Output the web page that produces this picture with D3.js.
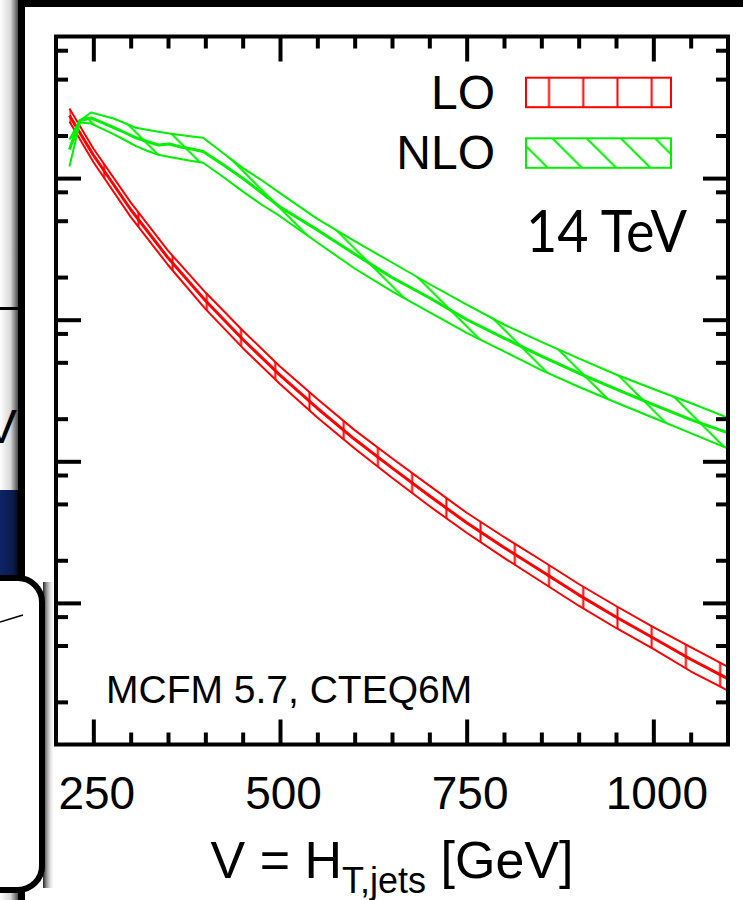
<!DOCTYPE html>
<html>
<head>
<meta charset="utf-8">
<script src="https://cdn.jsdelivr.net/npm/d3@7"></script>
<style>
  html, body { margin: 0; padding: 0; background: #fff; }
  svg { display: block; }
</style>
</head>
<body>
<svg id="chart" width="743" height="900"></svg>
<script>
// Differential cross section in V = H_T,jets at 14 TeV: LO and NLO scale bands.
// Values are in arbitrary units on a log scale (five decades shown).

// LO band
const vLO = [218, 250, 300, 350, 400, 450, 500, 550, 600, 650, 700, 750, 800, 850, 900, 950, 1000, 1050, 1100];
const loCentral = [2767, 1456, 600, 273.6, 136.6, 72.8, 40.6, 23.7, 14.3, 8.98, 5.71, 3.68, 2.46, 1.68, 1.14, 0.795, 0.565, 0.400, 0.291];
const loUpper   = [3101, 1618, 673.7, 307.1, 156.1, 83.9, 46.7, 27.5, 16.6, 10.5, 6.73, 4.33, 2.92, 2.00, 1.36, 0.951, 0.675, 0.487, 0.353];
const loLower   = [2510, 1299, 532, 243.4, 119.2, 63.2, 35.2, 20.4, 12.3, 7.66, 4.83, 3.13, 2.08, 1.41, 0.955, 0.665, 0.474, 0.329, 0.240];

// NLO band
const vNLO = [218, 232, 247, 262, 277, 292, 307, 322, 337, 352, 367, 382, 397, 425, 450, 475, 500, 550, 600, 650, 700, 750, 800, 850, 900, 950, 1000, 1050, 1100];
const nloCentral = [1592, 2552, 2657, 2462, 2277, 2099, 1926, 1813, 1713, 1741, 1658, 1605, 1541, 1231, 996.8, 791.4, 625.2, 430.8, 291.1, 198.6, 143.0, 100.3, 74.2, 55.3, 41.9, 32.4, 25.1, 19.7, 15.9];
const nloUpper   = [1873, 2552, 2906, 2768, 2636, 2450, 2266, 2193, 2127, 2065, 2016, 1967, 1926, 1484, 1180, 969.6, 783.8, 515.1, 358.4, 253.5, 178.7, 128.0, 92.5, 69.8, 53.3, 41.0, 32.4, 25.8, 20.3];
const nloLower   = [1207, 2470, 2430, 2230, 2045, 1858, 1680, 1559, 1460, 1409, 1364, 1321, 1283, 1010, 805.6, 651.1, 538.1, 350.9, 229.9, 158.7, 113.3, 80.8, 59.7, 44.1, 33.6, 26.0, 20.3, 15.8, 12.3];

// Axis ticks
const xMajorTicks = [250, 500, 750, 1000];
const xMinorTicks = [300, 350, 400, 450, 550, 600, 650, 700, 800, 850, 900, 950, 1050];
const yMajorTicks = [1, 10, 100, 1000];
const yMinorTicks = [0.2, 0.5, 0.8, 2, 5, 8, 20, 50, 80, 200, 500, 800, 2000, 5000, 8000];

const legendLabels = ["LO", "NLO"];
const RED = "#ff0000", GREEN = "#00f000";
const FONT = "'Liberation Sans', Arial, Helvetica, sans-serif";

const svg = d3.select("#chart");
const defs = svg.append("defs");

// ---------- slide backdrop ----------
const shadowGrad = defs.append("linearGradient").attr("id", "sideShade")
  .attr("x1", 0).attr("x2", 1).attr("y1", 0).attr("y2", 0);
shadowGrad.append("stop").attr("offset", "0%").attr("stop-color", "#ffffff");
shadowGrad.append("stop").attr("offset", "55%").attr("stop-color", "#d8d8d8");
shadowGrad.append("stop").attr("offset", "100%").attr("stop-color", "#3a3a3a");

const navyGrad = defs.append("linearGradient").attr("id", "navyShade")
  .attr("x1", 0).attr("x2", 1).attr("y1", 0).attr("y2", 0);
navyGrad.append("stop").attr("offset", "0%").attr("stop-color", "#0d2466");
navyGrad.append("stop").attr("offset", "70%").attr("stop-color", "#0a1a4c");
navyGrad.append("stop").attr("offset", "100%").attr("stop-color", "#02050f");

const boxShade = defs.append("linearGradient").attr("id", "boxShade")
  .attr("x1", 0).attr("x2", 1).attr("y1", 0).attr("y2", 0);
boxShade.append("stop").attr("offset", "0%").attr("stop-color", "#222");
boxShade.append("stop").attr("offset", "100%").attr("stop-color", "#fff").attr("stop-opacity", 0);

const back = svg.append("g");
back.append("rect").attr("x", 0).attr("y", 0).attr("width", 743).attr("height", 900).attr("fill", "#fff");
// shade of the front panel on the slide behind it
back.append("rect").attr("x", 0).attr("y", 0).attr("width", 19).attr("height", 900).attr("fill", "url(#sideShade)");
back.append("text").attr("x", 17).attr("y", 443).attr("text-anchor", "end")
  .attr("font-family", FONT).attr("font-size", 48).attr("fill", "#000").text("TeV");
back.append("rect").attr("x", 0).attr("y", 307).attr("width", 19).attr("height", 3).attr("fill", "#000");
back.append("rect").attr("x", 0).attr("y", 490).attr("width", 19).attr("height", 90).attr("fill", "url(#navyShade)");

// front panel
back.append("rect").attr("x", 21.5).attr("y", 3.5).attr("width", 760).attr("height", 930)
  .attr("fill", "#fff").attr("stroke", "#000").attr("stroke-width", 7);

// rounded caption box overlapping the panel edge
back.append("rect").attr("x", 43).attr("y", 582).attr("width", 12).attr("height", 306).attr("fill", "url(#boxShade)");
back.append("rect").attr("x", -40).attr("y", 578).attr("width", 82).attr("height", 312).attr("rx", 24)
  .attr("fill", "#fff").attr("stroke", "#000").attr("stroke-width", 6);
back.append("line").attr("x1", 0).attr("y1", 622).attr("x2", 23).attr("y2", 615)
  .attr("stroke", "#000").attr("stroke-width", 1.5);

// ---------- chart ----------
const x = d3.scaleLinear().domain([200, 1100]).range([56, 728]);
const y = d3.scaleLog().domain([0.1, 10000]).range([744.5, 36.5]);

// hatch patterns
const P = 34.22;
const vHatch = defs.append("pattern").attr("id", "hatchLO").attr("patternUnits", "userSpaceOnUse")
  .attr("x", 1.5 - P / 2).attr("y", 0).attr("width", P).attr("height", P);
vHatch.append("line").attr("x1", P / 2).attr("x2", P / 2).attr("y1", -1).attr("y2", P + 1)
  .attr("stroke", RED).attr("stroke-width", 2);

const dHatch = defs.append("pattern").attr("id", "hatchNLO").attr("patternUnits", "userSpaceOnUse")
  .attr("x", 3.5).attr("y", 0).attr("width", P).attr("height", P);
dHatch.append("path")
  .attr("d", `M-3,-3L${P + 3},${P + 3}M${P - 3},-3L${P + 3},3M-3,${P - 3}L3,${P + 3}`)
  .attr("stroke", GREEN).attr("stroke-width", 2).attr("fill", "none");

defs.append("clipPath").attr("id", "plotClip").append("rect")
  .attr("x", 56).attr("y", 36.5).attr("width", 672).attr("height", 708);

const plot = svg.append("g");

function band(vs, lo, hi, mid, color, pattern) {
  const rows = vs.map((v, i) => ({ v, lo: lo[i], hi: hi[i], mid: mid[i] }));
  const g = plot.append("g").attr("clip-path", "url(#plotClip)");
  g.append("path").datum(rows)
    .attr("d", d3.area().x(d => x(d.v)).y0(d => y(d.lo)).y1(d => y(d.hi)))
    .attr("fill", `url(#${pattern})`).attr("stroke", "none");
  const edge = key => d3.line().x(d => x(d.v)).y(d => y(d[key]));
  ["hi", "lo"].forEach(k => g.append("path").datum(rows).attr("d", edge(k))
    .attr("fill", "none").attr("stroke", color).attr("stroke-width", 2).attr("stroke-linejoin", "round"));
  g.append("path").datum(rows).attr("d", edge("mid"))
    .attr("fill", "none").attr("stroke", color).attr("stroke-width", 3).attr("stroke-linejoin", "round");
}

band(vLO, loLower, loUpper, loCentral, RED, "hatchLO");
band(vNLO, nloLower, nloUpper, nloCentral, GREEN, "hatchNLO");

// tick marks on all four sides, pointing inward
function ticks(axisFn, scale, vals, len, tx, ty) {
  const g = plot.append("g").attr("transform", `translate(${tx},${ty})`)
    .call(axisFn(scale).tickValues(vals).tickSize(-len).tickFormat(""));
  g.select(".domain").remove();
  g.selectAll(".tick line").attr("stroke", "#000").attr("stroke-width", 4);
  g.selectAll("text").remove();
}
ticks(d3.axisBottom, x, xMajorTicks, 25, 0, 744.5);
ticks(d3.axisBottom, x, xMinorTicks, 12, 0, 744.5);
ticks(d3.axisTop, x, xMajorTicks, 25, 0, 36.5);
ticks(d3.axisTop, x, xMinorTicks, 12, 0, 36.5);
ticks(d3.axisLeft, y, yMajorTicks, 25, 56, 0);
ticks(d3.axisLeft, y, yMinorTicks, 12, 56, 0);
ticks(d3.axisRight, y, yMajorTicks, 25, 728, 0);
ticks(d3.axisRight, y, yMinorTicks, 12, 728, 0);

// frame
plot.append("rect").attr("x", 56).attr("y", 36.5).attr("width", 672).attr("height", 708)
  .attr("fill", "none").attr("stroke", "#000").attr("stroke-width", 4);

// x tick labels
const xl = plot.append("g").attr("transform", "translate(0,744.5)")
  .call(d3.axisBottom(x).tickValues(xMajorTicks).tickSize(0).tickPadding(32).tickFormat(d3.format("d")));
xl.select(".domain").remove();
xl.attr("font-family", FONT).attr("font-size", 46);
xl.selectAll("text").attr("fill", "#000").attr("dx", 3);

// axis title
const title = plot.append("text").attr("x", 392).attr("y", 878).attr("text-anchor", "middle")
  .attr("font-family", FONT).attr("font-size", 52).attr("fill", "#000");
title.append("tspan").text("V = H");
title.append("tspan").attr("font-size", 36).attr("dy", 15).text("T,jets");
title.append("tspan").attr("dy", -15).text(" [GeV]");

// legend
const legendColors = [RED, GREEN];
const legendFills = ["url(#hatchLO)", "url(#hatchNLO)"];
const legendTops = [77.7, 138.3];
legendLabels.forEach((lab, i) => {
  plot.append("text").attr("x", 495).attr("y", legendTops[i] + 31).attr("text-anchor", "end")
    .attr("font-family", FONT).attr("font-size", 48).attr("fill", "#000").text(lab);
  plot.append("rect").attr("x", 526).attr("y", legendTops[i]).attr("width", 145).attr("height", 29.5)
    .attr("fill", legendFills[i]).attr("stroke", legendColors[i]).attr("stroke-width", 2);
});

plot.append("text").attr("x", 526).attr("y", 251.5)
  .attr("font-family", "Lato, 'Open Sans', sans-serif").attr("font-size", 58).attr("fill", "#000")
  .attr("textLength", 161).attr("lengthAdjust", "spacingAndGlyphs")
  .text("14 TeV");

plot.append("text").attr("x", 106).attr("y", 703)
  .attr("font-family", FONT).attr("font-size", 39).attr("fill", "#000")
  .text("MCFM 5.7, CTEQ6M");
</script>
</body>
</html>
